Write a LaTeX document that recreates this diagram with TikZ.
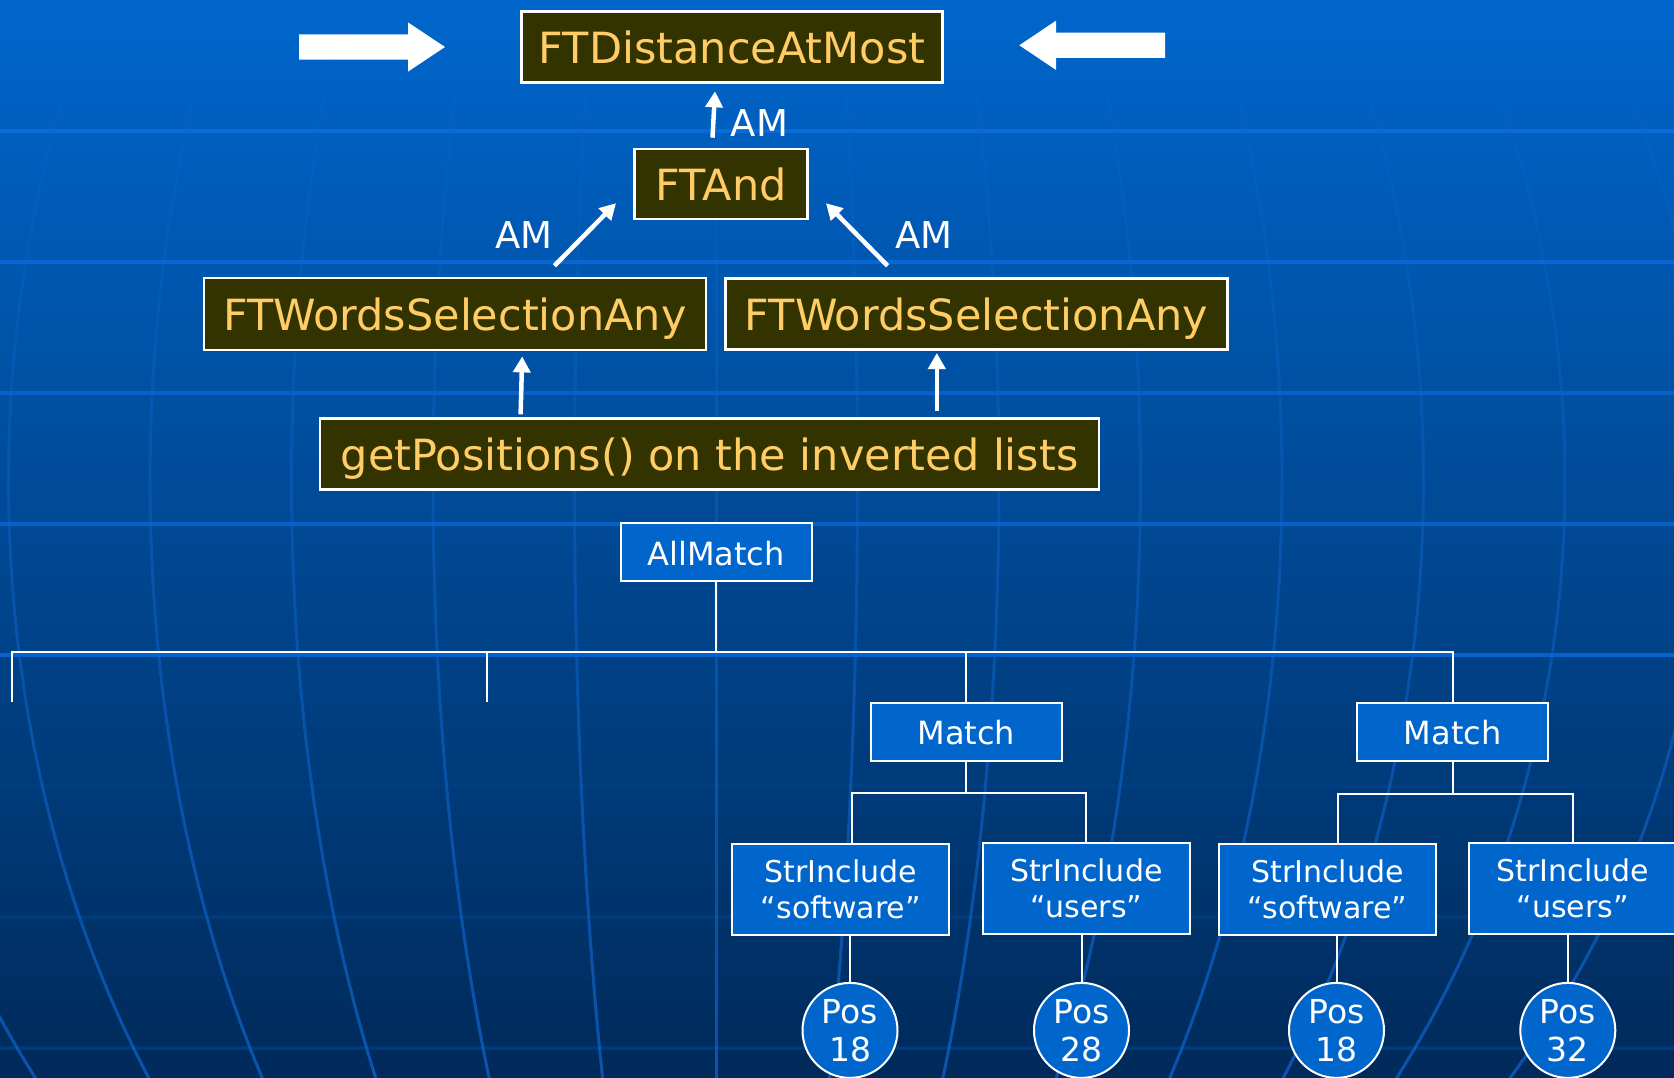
\documentclass[tikz,border=0pt]{standalone}
\usepackage{fontspec}
\setmainfont{DejaVu Sans}
\usetikzlibrary{arrows.meta,fadings}

\definecolor{bgtop}{HTML}{0066CC}
\definecolor{bgmid}{HTML}{004B98}
\definecolor{bgbot}{HTML}{002A5A}
\definecolor{meridian}{HTML}{1066D0}
\definecolor{hlA}{HTML}{0A6BD6}
\definecolor{hlB}{HTML}{0A66D0}
\definecolor{hlC}{HTML}{0661CA}
\definecolor{hlD}{HTML}{0562C8}
\definecolor{hlE}{HTML}{0462CC}
\definecolor{hlF}{HTML}{003E82}
\definecolor{hlG}{HTML}{003B7A}
\definecolor{hlH}{HTML}{00387A}
\definecolor{opfill}{HTML}{333300}
\definecolor{optext}{HTML}{FFCC66}
\definecolor{treefill}{HTML}{0066CC}

% meridians fade out towards the top of the globe
\tikzfading[name=meridianfade, top color=transparent!80,
  middle color=transparent!50, bottom color=transparent!0]

% two centred lines whose reference point is the first baseline
\newcommand{\twolines}[2]{\begin{tabular}[t]{@{}c@{}}#1\\#2\end{tabular}}

\tikzset{
  opbox/.style={draw=white, line width=2.5pt, fill=opfill, text=optext,
    inner sep=0pt, font=\fontsize{43}{52}\selectfont,
    text height=32.8pt, text depth=0pt},
  tbox/.style={draw=white, line width=2pt, fill=treefill, text=white,
    inner sep=0pt, font=\fontsize{32}{38}\selectfont,
    minimum width=191pt, minimum height=58pt,
    text height=26pt, text depth=0pt},
  sbox/.style={draw=white, line width=2pt, fill=treefill, text=white,
    inner sep=0pt, font=\fontsize{30}{36}\selectfont,
    minimum height=91pt, text height=0pt, text depth=13.6pt},
  pbox/.style={circle, draw=white, line width=2pt, fill=treefill, text=white,
    inner sep=0pt, font=\fontsize{33}{38}\selectfont,
    minimum size=95pt, text height=0pt, text depth=13.8pt},
  amtext/.style={text=white, inner sep=0pt, font=\fontsize{37}{44}\selectfont},
  thinarrow/.style={draw=white, line width=4.5pt,
    -{Triangle[length=16pt,width=17pt]}},
  tree/.style={draw=white, line width=2pt},
  gridh/.style={line width=4pt},
  gridv/.style={draw=meridian, opacity=0.7, line width=3pt,
    path fading=meridianfade, fit fading=true},
  blockarrow/.style={fill=white}
}

\begin{document}
\begin{tikzpicture}[x=1pt, y=-1pt]
\useasboundingbox (0,0) rectangle (1674,1078);

% background
\shade[top color=bgtop, middle color=bgmid, bottom color=bgbot]
  (0,0) rectangle (1674,1078);
\begin{scope}
  \clip (0,0) rectangle (1674,1078);
  \foreach \yy/\cc in {131/hlA,262/hlB,393/hlC,524/hlD,655/hlE,786/hlF,917/hlG,1048/hlH}
    \draw[gridh, draw=\cc] (0,\yy) -- (1674,\yy);
  \foreach \k in {-6,...,7}
    \draw[gridv] plot[domain=0:1078, samples=40, variable=\t]
      ({716+141.5*(\k)*sqrt(1-((\t-480)/1000)^2)}, \t);
\end{scope}

% block arrows beside the top operator
\fill[blockarrow] (299,34.4) -- (408,34.4) -- (408,22.4) -- (445,47)
  -- (408,71.6) -- (408,59.6) -- (299,59.6) -- cycle;
\fill[blockarrow] (1165,32.7) -- (1056,32.7) -- (1056,20.7) -- (1019.3,45.3)
  -- (1056,69.9) -- (1056,57.9) -- (1165,57.9) -- cycle;

% operator boxes
\node[opbox, minimum width=421pt, minimum height=71pt] (dist) at (732.2,46.8) {FTDistanceAtMost};
\node[opbox, minimum width=173pt, minimum height=70pt] (and) at (721.2,184.2) {FTAnd};
\node[opbox, minimum width=502pt, minimum height=72pt] (wsl) at (454.75,314.2) {FTWordsSelectionAny};
\node[opbox, minimum width=502pt, minimum height=71pt] (wsr) at (976.45,313.8) {FTWordsSelectionAny};
\node[opbox, minimum width=779pt, minimum height=71pt] (gpos) at (709.7,454.2) {getPositions() on the inverted lists};

% arrows between operators
\draw[thinarrow] ([xshift=-8.7pt,yshift=10.25pt]and.north) -- ([xshift=-17.2pt,yshift=-7.75pt]dist.south);
\draw[thinarrow] ([xshift=99.65pt,yshift=11.15pt]wsl.north) -- ([xshift=-17.45pt,yshift=17.25pt]and.south west);
\draw[thinarrow] ([xshift=-88.85pt,yshift=11.25pt]wsr.north) -- ([xshift=17.05pt,yshift=17.25pt]and.south east);
\draw[thinarrow] ([xshift=-189.1pt,yshift=3.15pt]gpos.north) -- ([xshift=67.45pt,yshift=-4.95pt]wsl.south);
\draw[thinarrow] ([xshift=227.1pt,yshift=6.65pt]gpos.north) -- ([xshift=-39.65pt,yshift=-2.45pt]wsr.south);

\node[amtext, anchor=base west] (lbltop) at (730.7,137) {AM};
\node[amtext, anchor=base west] (lblleft) at (495,248.6) {AM};
\node[amtext, anchor=base west] (lblright) at (895.3,248.6) {AM};

% match tree
\node[tbox] (all) at (716.1,552) {AllMatch};
\node[tbox] (m1) at (966.3,731.7) {Match};
\node[tbox] (m2) at (1452.6,731.7) {Match};

\node[sbox, minimum width=217pt] (s1) at (840.9,889.2) {\twolines{StrInclude}{“software”}};
\node[sbox, minimum width=207pt] (s2) at (1086.3,888.1) {\twolines{StrInclude}{“users”}};
\node[sbox, minimum width=217.5pt] (s3) at (1327.4,889.2) {\twolines{StrInclude}{“software”}};
\node[sbox, minimum width=207.5pt] (s4) at (1572.7,888.1) {\twolines{StrInclude}{“users”}};

\node[pbox] (p1) at (850,1030.4) {\twolines{Pos}{18}};
\node[pbox] (p2) at (1081.5,1030.4) {\twolines{Pos}{28}};
\node[pbox] (p3) at (1336.5,1030.4) {\twolines{Pos}{18}};
\node[pbox] (p4) at (1567.8,1030.4) {\twolines{Pos}{32}};

\coordinate (bus) at (716,652);
\coordinate (d1) at (11.8,702);
\coordinate (d2) at (486.9,702);
\draw[tree] (all.south) -- (all.south |- bus);
\draw[tree] (d1) -- (d1 |- bus) -- (m2.north |- bus) -- (m2.north);
\draw[tree] (d2) -- (d2 |- bus);
\draw[tree] (m1.north) -- (m1.north |- bus);

\coordinate (k1) at (966.3,793);
\coordinate (k2) at (1452.6,793.5);
\draw[tree] (m1.south) -- (k1);
\draw[tree] ([xshift=10.8pt]s1.north) |- (k1) -| (s2.north);
\draw[tree] (m2.south) -- (k2);
\draw[tree] ([xshift=10.5pt]s3.north) |- (k2) -| (s4.north);

\draw[tree] (s1.south -| p1.north) -- (p1.north);
\draw[tree] (s2.south -| p2.north) -- (p2.north);
\draw[tree] (s3.south -| p3.north) -- (p3.north);
\draw[tree] (s4.south -| p4.north) -- (p4.north);
\end{tikzpicture}
\end{document}
